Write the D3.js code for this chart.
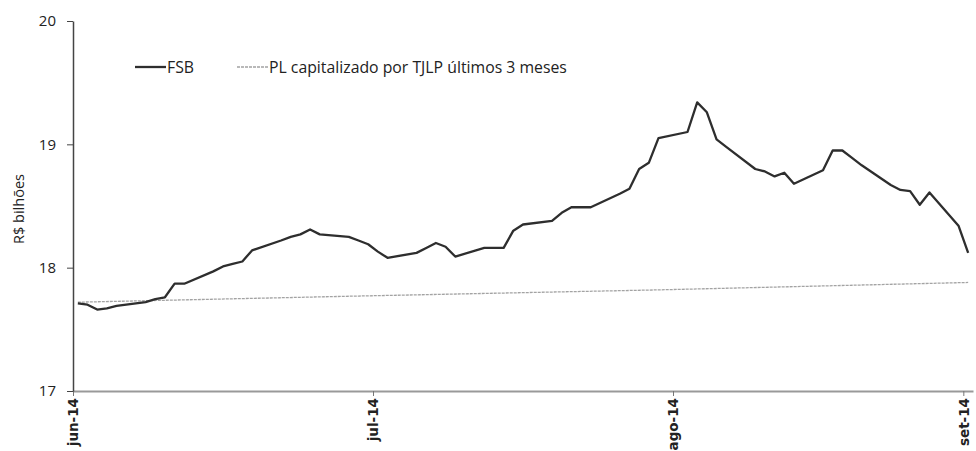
<!DOCTYPE html>
<html>
<head>
<meta charset="utf-8">
<script src="https://cdn.jsdelivr.net/npm/d3@7"></script>
<style>
  body { margin: 0; background: #fff; }
  text { font-family: "Open Sans", "Noto Sans", sans-serif; fill: #222; }
</style>
</head>
<body>
<div id="chart"></div>
<script>
// Business days (Jun-Sep 2014) and FSB value in R$ billions
const dates = [
    "2014-06-02", "2014-06-03", "2014-06-04", "2014-06-05", "2014-06-06",
    "2014-06-09", "2014-06-10", "2014-06-11", "2014-06-12", "2014-06-13",
    "2014-06-16", "2014-06-17", "2014-06-18", "2014-06-19", "2014-06-20",
    "2014-06-23", "2014-06-24", "2014-06-25", "2014-06-26", "2014-06-27",
    "2014-06-30", "2014-07-01", "2014-07-02", "2014-07-03", "2014-07-04",
    "2014-07-07", "2014-07-08", "2014-07-09", "2014-07-10", "2014-07-11",
    "2014-07-14", "2014-07-15", "2014-07-16", "2014-07-17", "2014-07-18",
    "2014-07-21", "2014-07-22", "2014-07-23", "2014-07-24", "2014-07-25",
    "2014-07-28", "2014-07-29", "2014-07-30", "2014-07-31", "2014-08-01",
    "2014-08-04", "2014-08-05", "2014-08-06", "2014-08-07", "2014-08-08",
    "2014-08-11", "2014-08-12", "2014-08-13", "2014-08-14", "2014-08-15",
    "2014-08-18", "2014-08-19", "2014-08-20", "2014-08-21", "2014-08-22",
    "2014-08-25", "2014-08-26", "2014-08-27", "2014-08-28", "2014-08-29",
    "2014-09-01", "2014-09-02"
];
const fsb = [
    17.71, 17.70, 17.66, 17.67, 17.69,
    17.72, 17.745, 17.76, 17.87, 17.87,
    17.97, 18.01, 18.03, 18.05, 18.14,
    18.22, 18.25, 18.27, 18.31, 18.27,
    18.25, 18.22, 18.19, 18.13, 18.08,
    18.12, 18.16, 18.20, 18.17, 18.09,
    18.16, 18.16, 18.16, 18.30, 18.35,
    18.38, 18.445, 18.49, 18.49, 18.49,
    18.60, 18.64, 18.80, 18.85, 19.05,
    19.10, 19.34, 19.26, 19.04, 18.98,
    18.80, 18.78, 18.74, 18.77, 18.68,
    18.79, 18.95, 18.95, 18.89, 18.83,
    18.67, 18.63, 18.62, 18.51, 18.61,
    18.34, 18.12
];

// PL capitalizado por TJLP
const plDates = ["2014-06-02", "2014-07-01", "2014-08-01", "2014-09-02"];
const plValues = [17.72, 17.77, 17.82, 17.88];

const seriesNames = ["FSB", "PL capitalizado por TJLP últimos 3 meses"];
const xTickDates = ["2014-06-02", "2014-07-03", "2014-08-03", "2014-09-02"];
const xTickLabels = ["jun-14", "jul-14", "ago-14", "set-14"];
const yTicks = [17, 18, 19, 20];

const width = 976;
const height = 451;
const margin = { top: 21, right: 3, bottom: 60, left: 73 };

const parse = d3.utcParse("%Y-%m-%d");
// points sit in the middle of their day
const mid = s => d3.utcHour.offset(parse(s), 12);

const fsbData = dates.map((d, i) => ({ date: mid(d), value: fsb[i] }));
const plData = plDates.map((d, i) => ({ date: mid(d), value: plValues[i] }));

const x = d3.scaleUtc()
    .domain([parse("2014-06-02"), parse("2014-09-03")])
    .range([margin.left, width - margin.right]);

const y = d3.scaleLinear()
    .domain([17, 20])
    .range([height - margin.bottom, margin.top]);

const svg = d3.create("svg")
    .attr("width", width)
    .attr("height", height)
    .attr("viewBox", [0, 0, width, height]);

d3.select("#chart").append(() => svg.node());

// x axis
const xAxis = svg.append("g")
    .attr("transform", `translate(0,${y(17)})`)
    .call(d3.axisBottom(x)
        .tickValues(xTickDates.map(parse))
        .tickFormat((d, i) => xTickLabels[i])
        .tickSize(5)
        .tickSizeOuter(0));
xAxis.select(".domain").attr("stroke", "#999").attr("stroke-width", 2);
xAxis.selectAll(".tick line").attr("stroke", "#777");
xAxis.selectAll("text")
    .style("font-family", "'DejaVu Sans', sans-serif")
    .style("font-weight", "bold")
    .style("font-size", "13.5px")
    .attr("fill", "#333")
    .style("text-anchor", "end")
    .attr("transform", "rotate(-90)")
    .attr("x", -7)
    .attr("y", 0)
    .attr("dx", 0)
    .attr("dy", "0.35em");

// y axis
const yAxis = svg.append("g")
    .attr("transform", `translate(${margin.left},0)`)
    .call(d3.axisLeft(y).tickValues(yTicks).tickFormat(d3.format("d")).tickSize(6).tickSizeOuter(0));
yAxis.select(".domain").attr("stroke", "#444").attr("stroke-width", 1.5);
yAxis.selectAll(".tick line").attr("stroke", "#444");
yAxis.selectAll("text")
    .attr("x", -17)
    .style("font-size", "15px")
    .attr("fill", "#222");

// Y axis label
svg.append("text")
    .attr("transform", "rotate(-90)")
    .attr("x", -209)
    .attr("y", 19)
    .attr("dy", "0.35em")
    .style("text-anchor", "middle")
    .style("font-size", "14.5px")
    .text("R$ bilhões");

const line = d3.line()
    .x(d => x(d.date))
    .y(d => y(d.value));

// PL line
svg.append("path")
    .datum(plData)
    .attr("fill", "none")
    .attr("stroke", "#a3a3a3")
    .attr("stroke-width", 1.3)
    .attr("stroke-dasharray", "3,1")
    .attr("d", line);

// FSB line
svg.append("path")
    .datum(fsbData)
    .attr("fill", "none")
    .attr("stroke", "#2e2e2e")
    .attr("stroke-width", 2.3)
    .attr("stroke-linejoin", "round")
    .attr("d", line);

// legend
const legendItems = [
    { name: seriesNames[0], x: 135, stroke: "#2e2e2e", width: 2.3, dash: null },
    { name: seriesNames[1], x: 237, stroke: "#a3a3a3", width: 1.3, dash: "3,1" }
];
const legend = svg.append("g").attr("transform", "translate(0,67)");
legend.selectAll("g")
    .data(legendItems)
    .join("g")
    .each(function (d) {
        const g = d3.select(this);
        g.append("line")
            .attr("x1", d.x).attr("x2", d.x + 31)
            .attr("stroke", d.stroke)
            .attr("stroke-width", d.width)
            .attr("stroke-dasharray", d.dash);
        g.append("text")
            .attr("x", d.x + 32)
            .attr("dy", "0.35em")
            .style("font-size", "15.8px")
            .text(d.name);
    });
</script>
</body>
</html>
